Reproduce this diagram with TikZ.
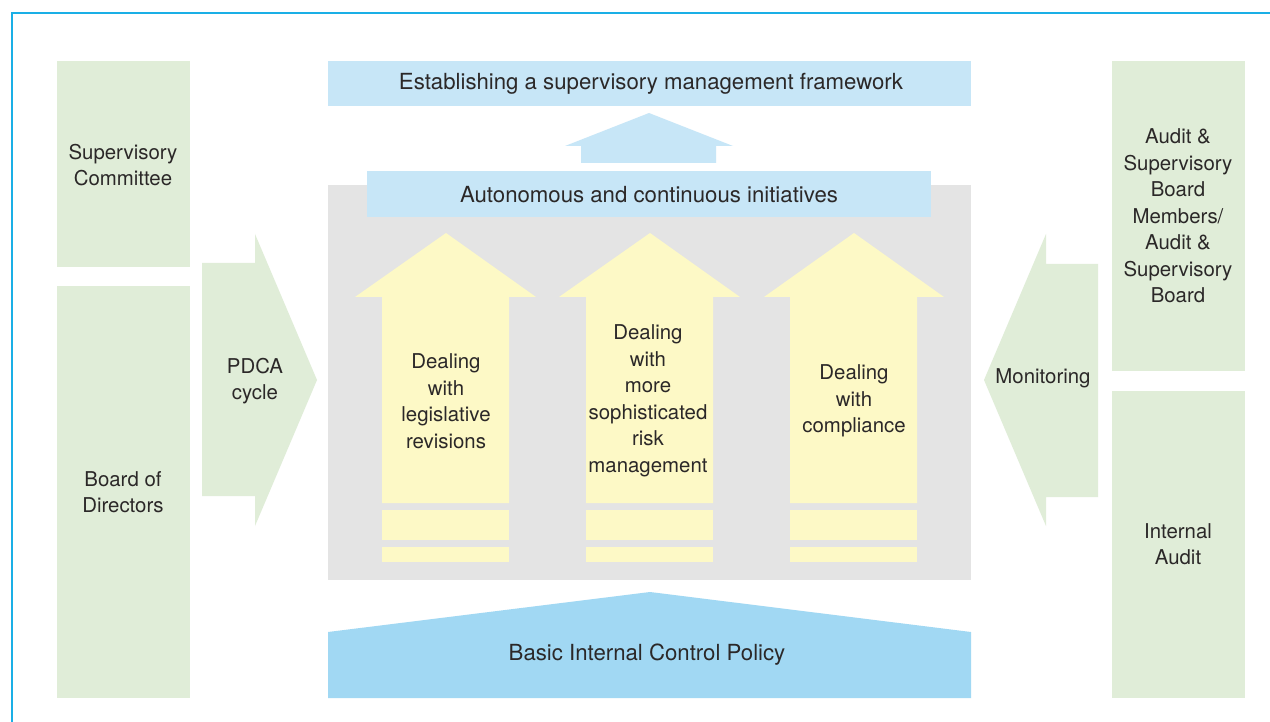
\documentclass[tikz,border=0pt]{standalone}
\usepackage{fontspec}
\setmainfont{TeX Gyre Heros}
\definecolor{framecol}{HTML}{1AAFE6}
\definecolor{greenfill}{HTML}{E0EDD8}
\definecolor{lightblue}{HTML}{C7E6F7}
\definecolor{basicblue}{HTML}{A1D8F3}
\definecolor{grayfill}{HTML}{E4E4E4}
\definecolor{yellowfill}{HTML}{FDF9C6}
\definecolor{textcol}{HTML}{2B2828}
\tikzset{
  lbl/.style={text=textcol, align=center, font=\fontsize{20.4}{26.5}\selectfont, inner sep=0pt},
  bannerlbl/.style={text=textcol, align=center, font=\fontsize{22.2}{26.5}\selectfont, inner sep=0pt},
}
\begin{document}
\begin{tikzpicture}[x=1pt,y=-1pt]
\useasboundingbox (0,0) rectangle (1270,722);
\fill[white] (0,0) rectangle (1270,722);
% frame
\draw[framecol, line width=2pt] (1270,13) -- (12,13) -- (12,722);
% left boxes
\fill[greenfill] (57,61) rectangle (190,267);
\node[lbl] (supcom) at (123,165) {Supervisory\\Committee};
\fill[greenfill] (57,286) rectangle (190,698);
\node[lbl] (board) at (123,492) {Board of\\Directors};
% PDCA arrow
\fill[greenfill] (202,263) -- (255,263) -- (255,234) -- (317,380) -- (255,526) -- (255,496) -- (202,496) -- cycle;
\node[lbl] (pdca) at (255,381) {PDCA\\cycle};
% right boxes
\fill[greenfill] (1112,61) rectangle (1245,371);
\node[lbl] (asb) at (1178,216) {Audit \&\\Supervisory\\Board\\Members/\\Audit \&\\Supervisory\\Board};
\fill[greenfill] (1112,391) rectangle (1245,698);
\node[lbl] (ia) at (1178,544) {Internal\\Audit};
% Monitoring arrow
\fill[greenfill] (1098,264) -- (1046,264) -- (1046,234) -- (984,380) -- (1046,526) -- (1046,497) -- (1098,497) -- cycle;
\node[lbl] (mon) at (1043,378) {Monitoring};
% top banner
\fill[lightblue] (328,61) rectangle (971,106);
\node[bannerlbl] (estab) at (651,84) {Establishing a supervisory management framework};
% small up arrow
\fill[lightblue] (581,163) -- (581,146) -- (565,146) -- (649,113) -- (733,146) -- (716,146) -- (716,163) -- cycle;
% gray box
\fill[grayfill] (328,185) rectangle (971,580);
\fill[lightblue] (367,171) rectangle (931,217);
\node[bannerlbl] (auto) at (649,195) {Autonomous and continuous initiatives};
% yellow arrows
\foreach \cx/\l/\r/\hl/\hr in {446/382/509/355/536, 650/586/713/559/740, 854/790/917/764/944}{
  \fill[yellowfill] (\l,503) -- (\l,297) -- (\hl,297) -- (\cx,233) -- (\hr,297) -- (\r,297) -- (\r,503) -- cycle;
  \fill[yellowfill] (\l,510) rectangle (\r,540);
  \fill[yellowfill] (\l,547) rectangle (\r,562);
}
\node[lbl] (leg) at (446,401) {Dealing\\with\\legislative\\revisions};
\node[lbl] (risk) at (648,401) {Dealing\\with\\more\\sophisticated\\risk\\management};
\node[lbl] (comp) at (854,401) {Dealing\\with\\compliance};
% basic policy
\fill[basicblue] (328,698) -- (328,632) -- (650,592) -- (971,632) -- (971,698) -- cycle;
\node[bannerlbl] (basic) at (647,655) {Basic Internal Control Policy};
\end{tikzpicture}
\end{document}
